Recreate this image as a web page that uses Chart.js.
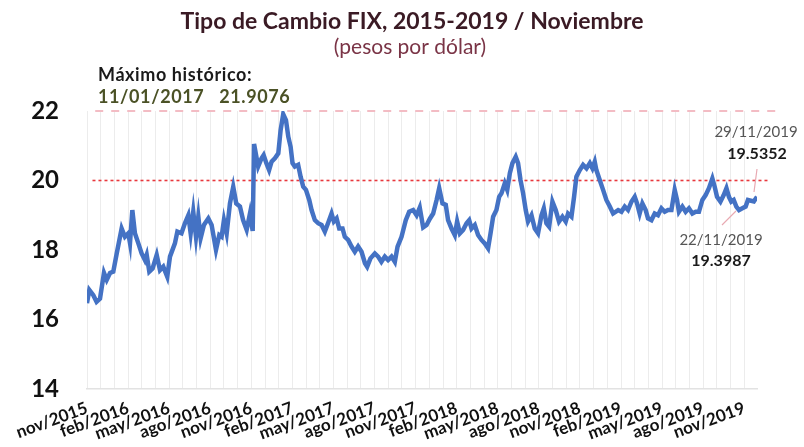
<!DOCTYPE html>
<html>
<head>
<meta charset="utf-8">
<script src="https://cdn.jsdelivr.net/npm/chart.js@4.4.0/dist/chart.umd.min.js"></script>
<style>
  body { margin: 0; background: #fff; }
  #wrap { width: 804px; height: 447px; }
</style>
</head>
<body>
<div id="wrap"><canvas id="myChart"></canvas></div>
<script>
// months since 1 nov 2015 (x) and FIX value (pesos por dolar)
const meses = [
  0.00, 0.17, 0.46, 0.70, 0.95, 1.24, 1.44, 1.68, 1.92, 2.17, 2.53, 2.77, 3.02, 3.14, 3.31, 3.50,
  3.75, 3.99, 4.23, 4.36, 4.55, 4.79, 5.09, 5.33, 5.57, 5.86, 6.06, 6.42, 6.60, 6.90, 7.15, 7.40,
  7.57, 7.76, 7.96, 8.13, 8.30, 8.54, 8.86, 9.10, 9.42, 9.66, 9.83, 10.00, 10.20, 10.44, 10.68, 10.90,
  11.17, 11.40, 11.66, 11.90, 12.10, 12.20, 12.50, 12.75, 12.90, 13.10, 13.30, 13.48, 13.72, 13.97,
  14.14, 14.33, 14.53, 14.70, 14.87, 15.01, 15.18, 15.42, 15.60, 15.79, 15.99, 16.23, 16.40, 16.64,
  16.88, 17.13, 17.37, 17.60, 17.86, 18.03, 18.23, 18.42, 18.66, 18.83, 19.07, 19.32, 19.56, 19.80,
  20.05, 20.30, 20.46, 20.70, 21.02, 21.26, 21.50, 21.75, 21.99, 22.24, 22.48, 22.68, 22.97, 23.28,
  23.53, 23.82, 24.07, 24.30, 24.55, 24.80, 25.04, 25.28, 25.53, 25.72, 25.96, 26.20, 26.37, 26.62,
  26.86, 27.03, 27.23, 27.47, 27.72, 27.91, 28.08, 28.32, 28.56, 28.81, 29.05, 29.29, 29.47, 29.66,
  29.90, 30.10, 30.27, 30.51, 30.69, 30.88, 31.07, 31.31, 31.48, 31.66, 31.85, 32.04, 32.21, 32.46,
  32.70, 32.94, 33.19, 33.36, 33.55, 33.75, 33.99, 34.23, 34.47, 34.72, 34.96, 35.13, 35.38, 35.57,
  35.74, 35.99, 36.23, 36.48, 36.72, 36.91, 37.08, 37.20, 37.45, 37.69, 37.93, 38.18, 38.42, 38.79,
  39.03, 39.27, 39.51, 39.76, 40.00, 40.17, 40.36, 40.56, 40.80, 40.97, 41.22, 41.46, 41.70, 41.95,
  42.19, 42.43, 42.68, 42.92, 43.09, 43.23, 43.48, 43.72, 43.96, 44.21, 44.45, 44.69, 44.94, 45.18,
  45.42, 45.67, 45.84, 46.01, 46.26, 46.50, 46.70, 46.88, 47.05, 47.23, 47.42, 47.62, 47.86, 48.10,
  48.27, 48.70, 48.93
];
const fix = [
  16.47, 16.85, 16.70, 16.51, 16.60, 17.34, 17.14, 17.34, 17.38, 17.90, 18.62, 18.38, 18.48, 18.20, 19.15, 18.48,
  18.19, 17.90, 17.71, 17.86, 17.38, 17.47, 17.86, 17.42, 17.52, 17.23, 17.81, 18.19, 18.53, 18.48, 18.77, 19.00,
  18.48, 19.10, 18.38, 18.96, 18.34, 18.72, 18.91, 18.72, 18.00, 18.43, 18.38, 18.86, 18.48, 19.34, 19.82, 19.34,
  19.25, 18.86, 18.58, 19.05, 18.55, 21.05, 20.40, 20.64, 20.73, 20.50, 20.30, 20.54, 20.64, 20.78,
  21.45, 21.9076, 21.74, 21.26, 20.97, 20.50, 20.40, 20.45, 20.11, 19.82, 19.73, 19.44, 19.15, 18.86,
  18.77, 18.72, 18.53, 18.77, 19.05, 18.82, 18.91, 18.62, 18.62, 18.38, 18.29, 18.10, 17.95, 18.10,
  17.95, 17.62, 17.52, 17.76, 17.90, 17.81, 17.66, 17.81, 17.71, 17.81, 17.66, 18.10, 18.38, 18.86,
  19.10, 19.15, 19.00, 19.22, 18.65, 18.72, 18.90, 19.05, 19.44, 19.78, 19.34, 19.30, 18.86, 18.62,
  18.43, 18.82, 18.48, 18.58, 18.77, 18.86, 18.62, 18.72, 18.43, 18.29, 18.19, 18.05, 18.48, 18.96,
  19.15, 19.53, 19.63, 19.92, 19.73, 20.21, 20.50, 20.68, 20.50, 20.01, 19.63, 19.15, 18.82, 19.00,
  18.62, 18.48, 19.00, 19.20, 18.77, 18.67, 19.39, 19.15, 18.82, 18.96, 18.82, 19.05, 18.96, 19.53,
  20.11, 20.30, 20.45, 20.35, 20.50, 20.35, 20.54, 20.30, 20.01, 19.73, 19.44, 19.25, 19.05, 19.15,
  19.10, 19.25, 19.15, 19.39, 19.53, 19.34, 19.05, 19.34, 19.15, 18.91, 18.86, 19.05, 19.00, 19.20,
  19.10, 19.15, 19.15, 19.73, 19.44, 19.10, 19.25, 19.10, 19.20, 19.05, 19.10, 19.10, 19.44, 19.58,
  19.78, 20.06, 19.82, 19.53, 19.39, 19.58, 19.78, 19.53, 19.39, 19.44, 19.25, 19.15, 19.20, 19.25,
  19.44, 19.3987, 19.5352
];
const etiquetas = ['nov/2015', 'feb/2016', 'may/2016', 'ago/2016', 'nov/2016', 'feb/2017', 'may/2017',
  'ago/2017', 'nov/2017', 'feb/2018', 'may/2018', 'ago/2018', 'nov/2018', 'feb/2019', 'may/2019',
  'ago/2019', 'nov/2019'];
const nivel20 = 20;
const maximoLinea = 22;

const fuente = 'Lato, "Open Sans", sans-serif';

// texts and leader lines around the plot
const textos = {
  id: 'textos',
  afterDraw(chart) {
    const c = chart.ctx;
    c.save();
    c.textBaseline = 'middle';
    c.textAlign = 'center';
    c.fillStyle = '#3a1a24';
    c.font = 'bold 23px ' + fuente;
    c.fillText('Tipo de Cambio FIX, 2015-2019 / Noviembre', 412, 22);
    c.fillStyle = '#7a3446';
    c.font = '21px ' + fuente;
    c.fillText('(pesos por dólar)', 410, 47);

    c.textAlign = 'left';
    c.fillStyle = '#1a1a1a';
    c.font = 'bold 18px ' + fuente;
    c.letterSpacing = '0.6px';
    c.fillText('Máximo histórico:', 98, 75);
    c.fillStyle = '#4b5226';
    c.fillText('11/01/2017   21.9076', 98, 97);
    c.letterSpacing = '0px';

    c.textAlign = 'center';
    c.fillStyle = '#555';
    c.font = '15px ' + fuente;
    c.fillText('29/11/2019', 756, 132);
    c.fillText('22/11/2019', 721, 240);
    c.fillStyle = '#1a1a1a';
    c.font = 'bold 16px ' + fuente;
    c.fillText('19.5352', 757, 154);
    c.fillText('19.3987', 721, 261);

    c.strokeStyle = '#e8a9b2';
    c.lineWidth = 1.2;
    c.beginPath();
    c.moveTo(757, 169); c.lineTo(754, 192);
    c.moveTo(722, 225); c.lineTo(736, 211);
    c.stroke();
    c.restore();
  }
};

const ctx = document.getElementById('myChart').getContext('2d');
const myChart = new Chart(ctx, {
  type: 'line',
  data: {
    datasets: [{
      data: meses.map((m, i) => ({ x: m, y: fix[i] })),
      borderColor: '#4472c4',
      borderWidth: 4.5,
      pointRadius: 0,
      tension: 0,
      order: 1
    }, {
      data: [{ x: 0.4, y: nivel20 }, { x: 49.8, y: nivel20 }],
      borderColor: '#e8383d',
      borderWidth: 1.6,
      borderDash: [3, 3],
      pointRadius: 0,
      clip: false,
      order: 2
    }, {
      data: [{ x: 0.6, y: maximoLinea }, { x: 50.3, y: maximoLinea }],
      borderColor: '#f3bcc4',
      borderWidth: 2,
      borderDash: [8, 8],
      pointRadius: 0,
      clip: false,
      order: 3
    }]
  },
  options: {
    responsive: true,
    maintainAspectRatio: false,
    animation: false,
    layout: { padding: { top: 111, right: 47, left: 0, bottom: 0 } },
    plugins: {
      legend: { display: false },
      tooltip: { enabled: false }
    },
    scales: {
      x: {
        type: 'linear',
        min: 0,
        max: 48.93,
        afterFit: (s) => { s.height = 58; },
        grid: { color: '#ececec', lineWidth: 1, drawTicks: false },
        border: { color: '#e2e2e2', width: 1.5 },
        ticks: {
          stepSize: 1,
          includeBounds: false,
          autoSkip: false,
          minRotation: 20,
          maxRotation: 20,
          padding: 9,
          color: '#111',
          font: { family: fuente, size: 17, weight: 'bold' },
          callback: (v) => (Number.isInteger(v) && v % 3 === 0) ? etiquetas[v / 3] : ''
        }
      },
      y: {
        min: 14,
        max: 22,
        afterFit: (s) => { s.width = 87; },
        grid: { display: false },
        border: { display: false },
        ticks: {
          stepSize: 2,
          padding: 20,
          color: '#111',
          font: { family: fuente, size: 24, weight: 'bold' }
        }
      }
    }
  },
  plugins: [textos]
});
</script>
</body>
</html>
